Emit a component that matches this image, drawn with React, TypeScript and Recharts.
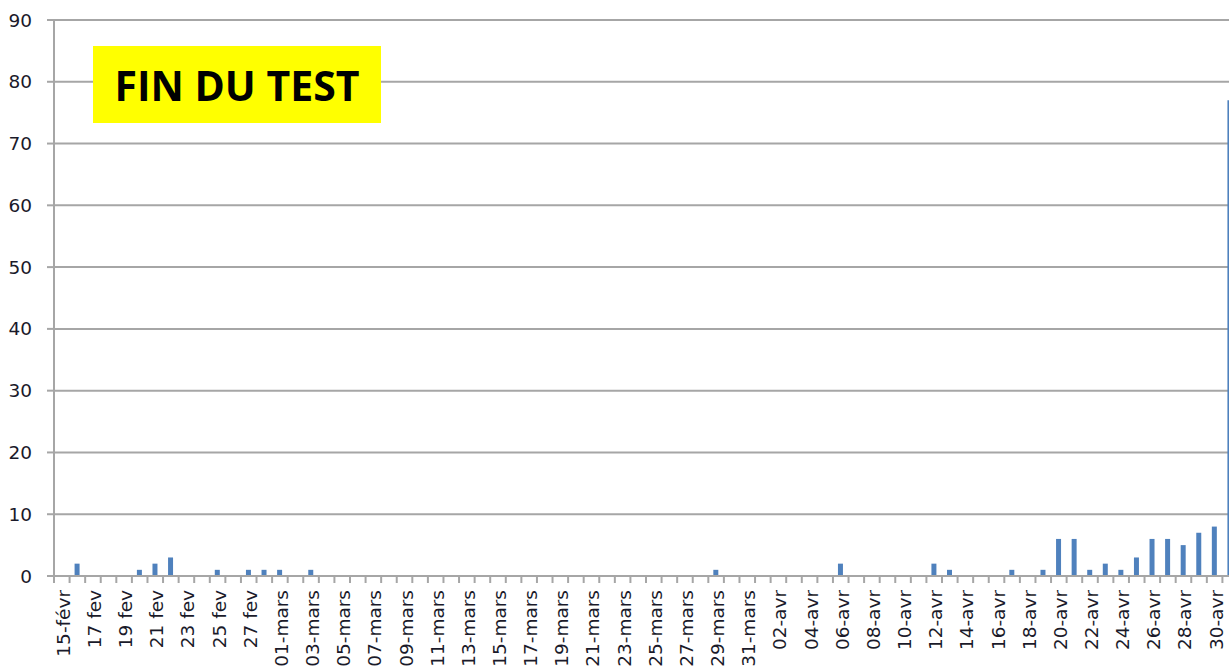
import React from "react";
import { BarChart, Bar, XAxis, YAxis, CartesianGrid } from "recharts";

// one entry per day, 15 feb -> 01 may
const CATEGORIES = [
  "15-févr", "16 fev", "17 fev", "18 fev", "19 fev", "20 fev", "21 fev", "22 fev",
  "23 fev", "24 fev", "25 fev", "26 fev", "27 fev", "28 fev",
  "01-mars", "02-mars", "03-mars", "04-mars", "05-mars", "06-mars", "07-mars",
  "08-mars", "09-mars", "10-mars", "11-mars", "12-mars", "13-mars", "14-mars",
  "15-mars", "16-mars", "17-mars", "18-mars", "19-mars", "20-mars", "21-mars",
  "22-mars", "23-mars", "24-mars", "25-mars", "26-mars", "27-mars", "28-mars",
  "29-mars", "30-mars", "31-mars",
  "01-avr", "02-avr", "03-avr", "04-avr", "05-avr", "06-avr", "07-avr", "08-avr",
  "09-avr", "10-avr", "11-avr", "12-avr", "13-avr", "14-avr", "15-avr", "16-avr",
  "17-avr", "18-avr", "19-avr", "20-avr", "21-avr", "22-avr", "23-avr", "24-avr",
  "25-avr", "26-avr", "27-avr", "28-avr", "29-avr", "30-avr",
  "01-mai",
];

const VALUES = [
  0, 2, 0, 0, 0, 1, 2, 3,
  0, 0, 1, 0, 1, 1,
  1, 0, 1, 0, 0, 0, 0,
  0, 0, 0, 0, 0, 0, 0,
  0, 0, 0, 0, 0, 0, 0,
  0, 0, 0, 0, 0, 0, 0,
  1, 0, 0,
  0, 0, 0, 0, 0, 2, 0, 0,
  0, 0, 0, 2, 1, 0, 0, 0,
  1, 0, 1, 6, 6, 1, 2, 1,
  3, 6, 6, 5, 7, 8,
  77,
];

const Y_TICKS = [0, 10, 20, 30, 40, 50, 60, 70, 80, 90];

const data = CATEGORIES.map((name, i) => ({ name, value: VALUES[i] }));

const GRAY = "#a6a6a6";
const TEXT = "#1a1a2a";
const FONT = "'DejaVu Sans', Verdana, sans-serif";
const PLOT_W = 1184;
const BAND = PLOT_W / CATEGORIES.length;

const DayTick = (props: any) => {
  const { x, y, payload, index } = props;
  const half = payload?.offset ?? BAND / 2;
  const lx = x - half;
  return (
    <g>
      <line x1={lx} y1={y} x2={lx} y2={y + 7} stroke={GRAY} strokeWidth={2} />
      {index % 2 === 0 && (
        <text
          x={x + 1.5}
          y={y + 14}
          transform={`rotate(-90 ${x + 1.5} ${y + 14})`}
          textAnchor="end"
          dominantBaseline="central"
          fontSize={18.5}
          fontFamily={FONT}
          fill={TEXT}
        >
          {payload.value}
        </text>
      )}
    </g>
  );
};

export default function App() {
  return (
    <div
      style={{
        position: "fixed",
        left: 0,
        top: 0,
        width: 1229,
        height: 671,
        overflow: "hidden",
        background: "#fff",
      }}
    >
      <BarChart
        width={54 + PLOT_W + 12}
        height={671}
        data={data}
        margin={{ top: 20, right: 12, bottom: 0, left: 0 }}
      >
        <CartesianGrid vertical={false} stroke={GRAY} strokeWidth={2} />
        <XAxis
          dataKey="name"
          interval={0}
          height={95}
          tickSize={0}
          tickMargin={0}
          tickLine={false}
          axisLine={{ stroke: GRAY, strokeWidth: 2 }}
          tick={<DayTick />}
        />
        <YAxis
          width={54}
          domain={[0, 90]}
          ticks={Y_TICKS}
          interval={0}
          tickSize={7}
          tickMargin={15}
          axisLine={{ stroke: GRAY, strokeWidth: 2 }}
          tickLine={{ stroke: GRAY, strokeWidth: 2 }}
          tick={{ fontSize: 18.5, fontFamily: FONT, fill: TEXT }}
        />
        <Bar dataKey="value" fill="#4f81bd" barSize={5} isAnimationActive={false} />
      </BarChart>
      <div
        style={{
          position: "absolute",
          left: 93,
          top: 46,
          width: 288,
          height: 77,
          background: "#ffff00",
          display: "flex",
          alignItems: "center",
          justifyContent: "center",
          fontFamily: "'Open Sans', sans-serif",
          fontWeight: 700,
          fontSize: 41,
          color: "#000",
        }}
      >
        FIN DU TEST
      </div>
    </div>
  );
}
